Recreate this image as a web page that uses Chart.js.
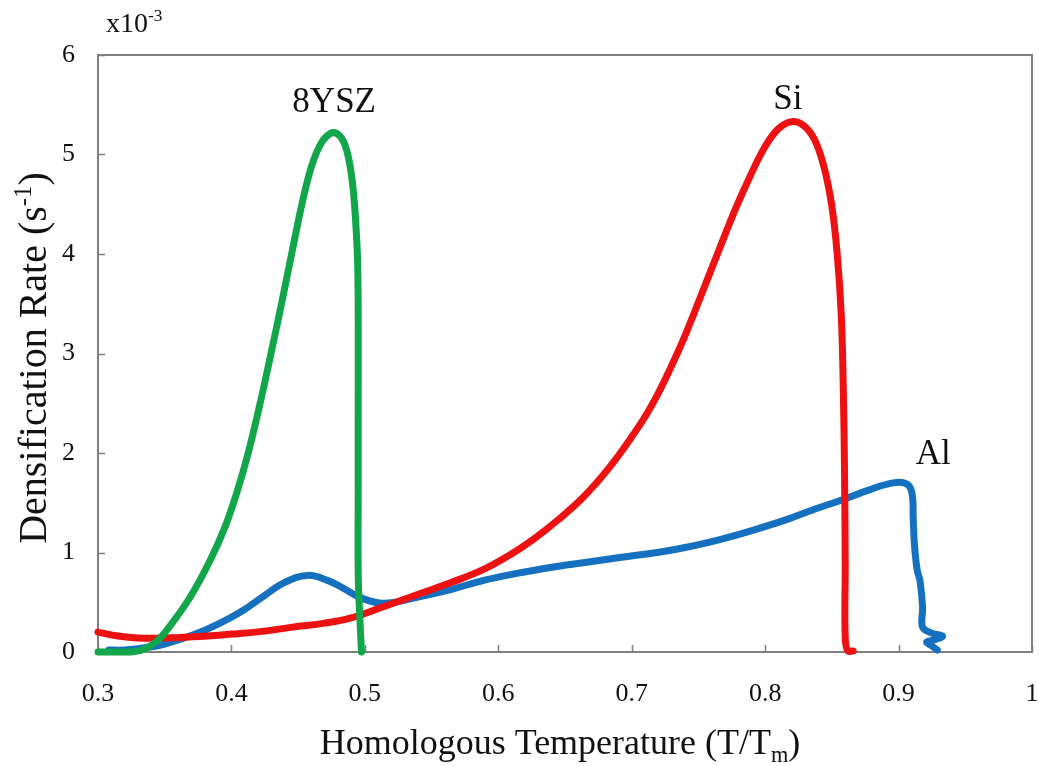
<!DOCTYPE html>
<html>
<head>
<meta charset="utf-8">
<title>Densification Rate vs Homologous Temperature</title>
<script src="https://cdn.jsdelivr.net/npm/chart.js@4/dist/chart.umd.min.js"></script>
<style>
  html, body { margin: 0; padding: 0; background: #fff; }
  #wrap { width: 1039px; height: 766px; }
</style>
</head>
<body>
<div id="wrap"><canvas id="chart" width="1039" height="766"></canvas></div>
<script>
// Axis ticks
const xTicks = [0.3, 0.4, 0.5, 0.6, 0.7, 0.8, 0.9, 1.0];
const yTicks = [0, 1, 2, 3, 4, 5, 6];

// 8YSZ (green), y in units of 1e-3 s^-1
const yszT = [0.300, 0.325, 0.335, 0.345, 0.355, 0.369, 0.384, 0.395, 0.404, 0.412, 0.421, 0.429, 0.438, 0.446, 0.454, 0.461, 0.468, 0.474, 0.479, 0.484, 0.488, 0.491, 0.493, 0.4945, 0.495, 0.495, 0.495, 0.495, 0.4962, 0.4975];
const yszRate = [0.00, 0.00, 0.03, 0.12, 0.28, 0.55, 0.92, 1.25, 1.60, 1.97, 2.47, 2.96, 3.53, 4.06, 4.57, 4.92, 5.13, 5.21, 5.21, 5.13, 4.95, 4.68, 4.35, 3.95, 3.40, 2.50, 1.60, 0.80, 0.35, 0.00];

// Si (red)
const siT = [0.300, 0.315, 0.330, 0.350, 0.375, 0.400, 0.425, 0.446, 0.470, 0.489, 0.515, 0.540, 0.565, 0.589, 0.608, 0.626, 0.645, 0.664, 0.683, 0.701, 0.712, 0.721, 0.730, 0.739, 0.751, 0.766, 0.778, 0.789, 0.800, 0.810, 0.820, 0.829, 0.837, 0.844, 0.850, 0.854, 0.857, 0.8585, 0.8595, 0.860, 0.860, 0.862, 0.866];
const siRate = [0.20, 0.16, 0.14, 0.14, 0.155, 0.18, 0.21, 0.25, 0.29, 0.34, 0.46, 0.58, 0.70, 0.83, 0.97, 1.13, 1.33, 1.56, 1.85, 2.18, 2.41, 2.63, 2.88, 3.15, 3.55, 4.06, 4.46, 4.79, 5.08, 5.26, 5.33, 5.29, 5.15, 4.88, 4.48, 4.00, 3.40, 2.70, 1.80, 0.90, 0.15, 0.01, 0.01];

// Al (blue)
const alT = [0.308, 0.320, 0.334, 0.350, 0.371, 0.390, 0.409, 0.425, 0.440, 0.457, 0.472, 0.484, 0.496, 0.514, 0.539, 0.565, 0.589, 0.614, 0.639, 0.665, 0.691, 0.714, 0.740, 0.766, 0.790, 0.816, 0.838, 0.858, 0.878, 0.896, 0.906, 0.910, 0.911, 0.912, 0.914, 0.916, 0.918, 0.918, 0.925, 0.933, 0.926, 0.921, 0.925, 0.929];
const alRate = [0.02, 0.02, 0.04, 0.08, 0.17, 0.28, 0.42, 0.57, 0.70, 0.77, 0.72, 0.64, 0.55, 0.49, 0.55, 0.63, 0.72, 0.79, 0.85, 0.90, 0.95, 0.99, 1.05, 1.13, 1.22, 1.33, 1.44, 1.53, 1.63, 1.70, 1.69, 1.60, 1.33, 1.06, 0.82, 0.72, 0.45, 0.25, 0.19, 0.16, 0.12, 0.10, 0.06, 0.02];

// Curve labels, anchored in data units
const seriesNames = ['8YSZ', 'Si', 'Al'];
const labelT = [0.477, 0.817, 0.926];
const labelRate = [5.52, 5.55, 1.98];

const SERIF = '"Liberation Serif", "Times New Roman", serif';
const frameColor = '#7f7f7f';

function toPoints(xs, ys) {
    return xs.map((x, i) => ({ x: x, y: ys[i] }));
}

// draws text with a super- or subscript piece
function richText(ctx, parts, x, y, size, align) {
    const widths = parts.map(p => {
        ctx.font = (p.sup || p.sub ? size * 0.62 : size) + 'px ' + SERIF;
        return ctx.measureText(p.t).width;
    });
    const total = widths.reduce((a, b) => a + b, 0);
    let cx = align === 'center' ? x - total / 2 : x;
    parts.forEach((p, i) => {
        ctx.font = (p.sup || p.sub ? size * 0.62 : size) + 'px ' + SERIF;
        let dy = 0;
        if (p.sup) dy = -size * 0.38;
        if (p.sub) dy = size * 0.22;
        ctx.fillText(p.t, cx, y + dy);
        cx += widths[i];
    });
}

const decorations = {
    id: 'decorations',
    beforeDatasetsDraw(chart) {
        const { ctx, chartArea: a, scales } = chart;
        ctx.save();
        ctx.strokeStyle = frameColor;
        ctx.lineWidth = 2;
        ctx.strokeRect(a.left, a.top, a.right - a.left, a.bottom - a.top);
        // inward tick marks
        ctx.lineWidth = 1.5;
        ctx.beginPath();
        xTicks.forEach(v => {
            const px = Math.round(scales.x.getPixelForValue(v)) + 0.5;
            ctx.moveTo(px, a.bottom);
            ctx.lineTo(px, a.bottom - 7);
        });
        yTicks.forEach(v => {
            const py = Math.round(scales.y.getPixelForValue(v)) + 0.5;
            ctx.moveTo(a.left, py);
            ctx.lineTo(a.left + 7, py);
        });
        ctx.stroke();
        ctx.restore();
    },
    afterDraw(chart) {
        const { ctx, scales } = chart;
        ctx.save();
        ctx.fillStyle = '#111';
        ctx.textBaseline = 'alphabetic';
        ctx.textAlign = 'left';

        // x axis title
        richText(ctx, [{ t: 'Homologous Temperature (T/T' }, { t: 'm', sub: true }, { t: ')' }],
            560, 754, 36, 'center');

        // y axis title
        ctx.save();
        ctx.translate(46, 358);
        ctx.rotate(-Math.PI / 2);
        richText(ctx, [{ t: 'Densification Rate (s' }, { t: '-1', sup: true }, { t: ')' }], 0, 0, 40, 'center');
        ctx.restore();

        // multiplier
        richText(ctx, [{ t: 'x10' }, { t: '-3', sup: true }], 106, 32, 28, 'left');

        // curve names
        ctx.font = '35px ' + SERIF;
        ctx.textAlign = 'center';
        ctx.textBaseline = 'middle';
        seriesNames.forEach((name, i) => {
            ctx.fillText(name, scales.x.getPixelForValue(labelT[i]), scales.y.getPixelForValue(labelRate[i]));
        });
        ctx.restore();
    }
};

const ctx = document.getElementById('chart').getContext('2d');
const chart = new Chart(ctx, {
    type: 'line',
    data: {
        datasets: [
            { label: '8YSZ', data: toPoints(yszT, yszRate), borderColor: '#12a64a' },
            { label: 'Si', data: toPoints(siT, siRate), borderColor: '#ee1111' },
            { label: 'Al', data: toPoints(alT, alRate), borderColor: '#1570c0' }
        ].map(d => Object.assign(d, {
            borderWidth: 7,
            pointRadius: 0,
            tension: 0.4,
            fill: false,
            clip: false,
            borderCapStyle: 'round',
            borderJoinStyle: 'round'
        }))
    },
    options: {
        responsive: false,
        animation: false,
        layout: { padding: { left: 0, right: 7, top: 55, bottom: 0 } },
        plugins: { legend: { display: false }, tooltip: { enabled: false } },
        scales: {
            x: {
                type: 'linear',
                min: 0.3,
                max: 1.0,
                afterBuildTicks: s => { s.ticks = xTicks.map(v => ({ value: v })); },
                afterFit: s => { s.height = 114; s.paddingLeft = 0; s.paddingRight = 0; },
                grid: { display: false },
                border: { display: false },
                ticks: {
                    color: '#111',
                    padding: 19,
                    maxRotation: 0,
                    font: { family: SERIF, size: 26 },
                    callback: v => String(+v.toFixed(1))
                }
            },
            y: {
                min: 0,
                max: 6,
                afterBuildTicks: s => { s.ticks = yTicks.map(v => ({ value: v })); },
                afterFit: s => { s.width = 98; s.paddingTop = 0; s.paddingBottom = 0; },
                grid: { display: false },
                border: { display: false },
                ticks: {
                    color: '#111',
                    padding: 15,
                    font: { family: SERIF, size: 26 },
                    callback: v => String(v)
                }
            }
        }
    },
    plugins: [decorations]
});
</script>
</body>
</html>
